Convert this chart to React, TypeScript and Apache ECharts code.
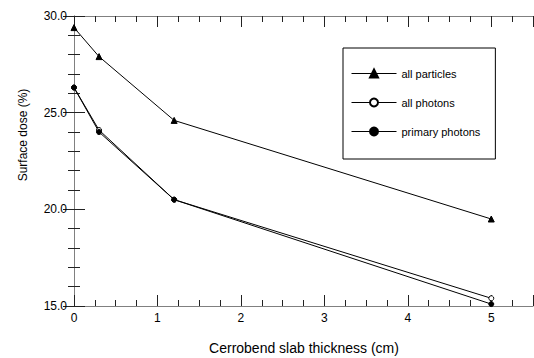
import React, { useEffect, useRef } from "react";
import * as echarts from "echarts";

const thickness = [0, 0.3, 1.2, 5];
const allParticles = [29.4, 27.9, 24.6, 19.5];
const allPhotons = [26.3, 24.1, 20.5, 15.4];
const primaryPhotons = [26.3, 24.0, 20.5, 15.1];
const seriesNames = ["all particles", "all photons", "primary photons"];

const FONT = "'Liberation Sans', Arial, sans-serif";

const pairs = (ys: number[]) => thickness.map((x, i) => [x, ys[i]]);

export default function App() {
  const ref = useRef<HTMLDivElement>(null);
  useEffect(() => {
    document.body.style.margin = "0";
    const chart = echarts.init(ref.current!, null, { renderer: "svg" });
    const axisLine = { show: true, lineStyle: { color: "#808080", width: 1 } };
    const tick = { show: true, inside: true, length: 11, lineStyle: { color: "#222", width: 1 } };
    const xMinor = { show: true, splitNumber: 4, length: 6, lineStyle: { color: "#222", width: 1 } };
    const yMinor = { show: true, splitNumber: 5, length: 6, lineStyle: { color: "#222", width: 1 } };
    const baseX = {
      type: "value",
      min: 0,
      max: 5.5,
      interval: 1,
      axisLine,
      axisTick: tick,
      minorTick: xMinor,
      splitLine: { show: false },
    };
    const baseY = {
      type: "value",
      min: 15,
      max: 30,
      interval: 5,
      axisLine,
      axisTick: tick,
      minorTick: yMinor,
      splitLine: { show: false },
    };
    const line = (name: string, data: number[], symbol: string, size: number, fill: string) => ({
      name,
      type: "line",
      data: pairs(data),
      symbol,
      symbolSize: size,
      showAllSymbol: true,
      lineStyle: { color: "#000", width: 1 },
      itemStyle: { color: fill, borderColor: "#000", borderWidth: 1 },
      emphasis: { disabled: true },
    });
    chart.setOption({
      animation: false,
      grid: { left: 74, right: 1, top: 16, bottom: 52 },
      xAxis: [
        {
          ...baseX,
          position: "bottom",
          axisLabel: {
            show: true,
            margin: 6,
            fontSize: 12,
            fontFamily: FONT,
            color: "#000",
            formatter: (v: number) => (Number.isInteger(v) ? String(v) : ""),
            showMaxLabel: false,
          },
        },
        { ...baseX, position: "top", axisLabel: { show: false } },
      ],
      yAxis: [
        {
          ...baseY,
          position: "left",
          axisLabel: {
            show: true,
            margin: 7,
            fontSize: 12,
            fontFamily: FONT,
            color: "#000",
            align: "right",
            formatter: (v: number) => v.toFixed(1),
          },
        },
        { ...baseY, position: "right", axisLabel: { show: false } },
      ],
      legend: {
        orient: "vertical",
        left: 343,
        top: 48,
        data: seriesNames,
        borderColor: "#000",
        borderWidth: 1,
        backgroundColor: "#fff",
        padding: [20, 15, 22, 8],
        itemGap: 18,
        itemWidth: 45,
        itemHeight: 10,
        lineStyle: { width: 1 },
        textStyle: { fontSize: 11, fontFamily: FONT, color: "#000" },
      },
      graphic: [
        {
          type: "text",
          x: 304,
          y: 348,
          style: {
            text: "Cerrobend slab thickness (cm)",
            fontSize: 14,
            fontFamily: FONT,
            fill: "#000",
            textAlign: "center",
            textVerticalAlign: "middle",
          },
        },
        {
          type: "text",
          x: 23,
          y: 135,
          rotation: Math.PI / 2,
          style: {
            text: "Surface dose (%)",
            fontSize: 12,
            fontFamily: FONT,
            fill: "#000",
            textAlign: "center",
            textVerticalAlign: "middle",
          },
        },
      ],
      series: [
        line(seriesNames[0], allParticles, "triangle", 6, "#000"),
        line(seriesNames[1], allPhotons, "circle", 5, "#fff"),
        line(seriesNames[2], primaryPhotons, "circle", 5, "#000"),
      ],
    });
    return () => chart.dispose();
  }, []);
  return <div ref={ref} style={{ width: 534, height: 358 }} />;
}
